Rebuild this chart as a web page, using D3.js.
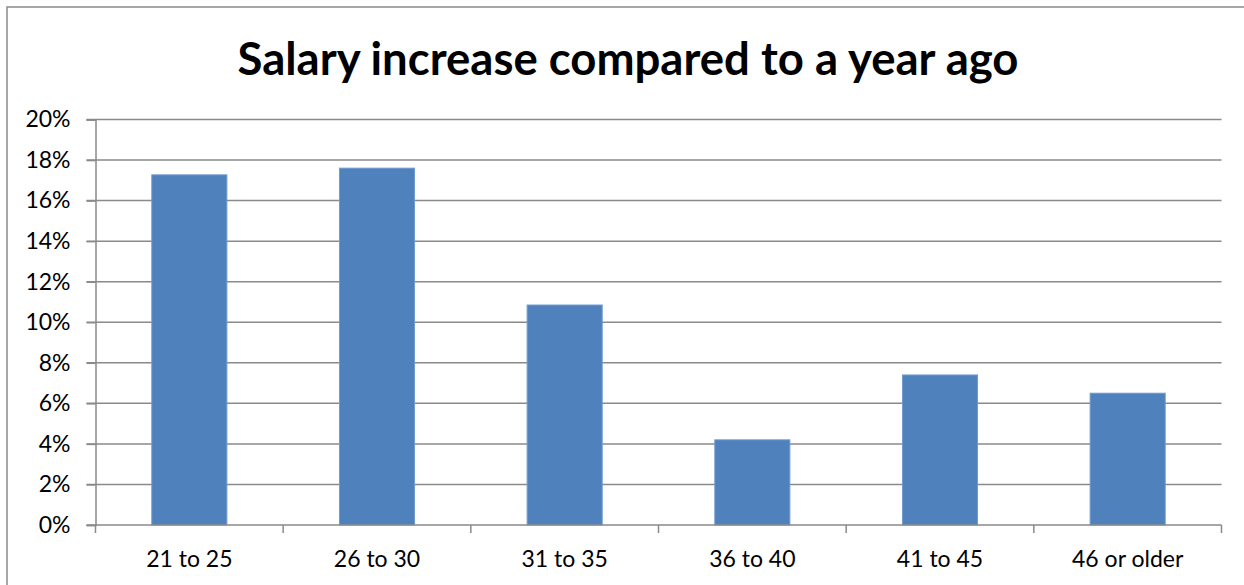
<!DOCTYPE html>
<html><head><meta charset="utf-8">
<script src="https://cdn.jsdelivr.net/npm/d3@7"></script>
<style>html,body{margin:0;padding:0;background:#fff;overflow:hidden}</style>
</head><body>
<svg id="c" width="1244" height="585"></svg>
<script>
const categories = ["21 to 25","26 to 30","31 to 35","36 to 40","41 to 45","46 or older"];
const values = [0.1727, 0.176, 0.1085, 0.042, 0.074, 0.065];
const yTicks = [0,0.02,0.04,0.06,0.08,0.10,0.12,0.14,0.16,0.18,0.20];
const title = "Salary increase compared to a year ago";

const svg = d3.select("#c");
const font = "Lato, 'Open Sans', sans-serif";
// outer border
svg.append("rect").attr("x",7).attr("y",7).attr("width",1250).attr("height",600)
  .attr("fill","none").attr("stroke","#8a8a8a").attr("stroke-width",1.5);

const m = {left:95.5, right:1221.5, top:119.5, bottom:525};
const x = d3.scaleBand().domain(categories).range([m.left,m.right]).paddingInner(0.6).paddingOuter(0.3);
const y = d3.scaleLinear().domain([0,0.2]).range([m.bottom,m.top]);

svg.append("text").attr("x",628).attr("y",75).attr("text-anchor","middle")
  .attr("font-family",font).attr("font-weight","bold").attr("font-size",45.5).attr("fill","#000").text(title);

// gridlines
svg.append("g").selectAll("line").data(yTicks.slice(1)).join("line")
  .attr("x1",m.left-9).attr("x2",m.right).attr("y1",d=>y(d)).attr("y2",d=>y(d))
  .attr("stroke","#8a8a8a").attr("stroke-width",1.5);

// y axis
const ya = svg.append("g").attr("transform",`translate(${m.left},0)`)
  .call(d3.axisLeft(y).tickValues(yTicks).tickFormat(d3.format(".0%")).tickSize(9).tickPadding(16));
ya.select(".domain").attr("stroke","#8a8a8a").attr("stroke-width",1.5);
ya.selectAll(".tick line").attr("stroke","#8a8a8a").attr("stroke-width",1.5);
ya.selectAll("text").attr("font-family",font).attr("font-size",23).attr("fill","#000");

// bars
svg.append("g").selectAll("rect").data(values).join("rect")
  .attr("x",(d,i)=>x(categories[i])).attr("width",x.bandwidth())
  .attr("y",d=>y(d)).attr("height",d=>y(0)-y(d))
  .attr("fill","#4F81BD").attr("stroke","#6f9bd0").attr("stroke-width",1);

// x axis
const bounds = d3.range(categories.length+1).map(i=>m.left+i*(m.right-m.left)/categories.length);
const xa = svg.append("g");
xa.append("line").attr("x1",m.left-9).attr("x2",m.right).attr("y1",y(0)).attr("y2",y(0))
  .attr("stroke","#8a8a8a").attr("stroke-width",1.5);
xa.selectAll("line.t").data(bounds).join("line").attr("class","t")
  .attr("x1",d=>d).attr("x2",d=>d).attr("y1",y(0)).attr("y2",y(0)+8)
  .attr("stroke","#8a8a8a").attr("stroke-width",1.5);
xa.selectAll("text").data(categories).join("text")
  .attr("x",d=>x(d)+x.bandwidth()/2).attr("y",567).attr("text-anchor","middle")
  .attr("font-family",font).attr("font-size",23).attr("fill","#000").text(d=>d);
</script>
</body></html>
